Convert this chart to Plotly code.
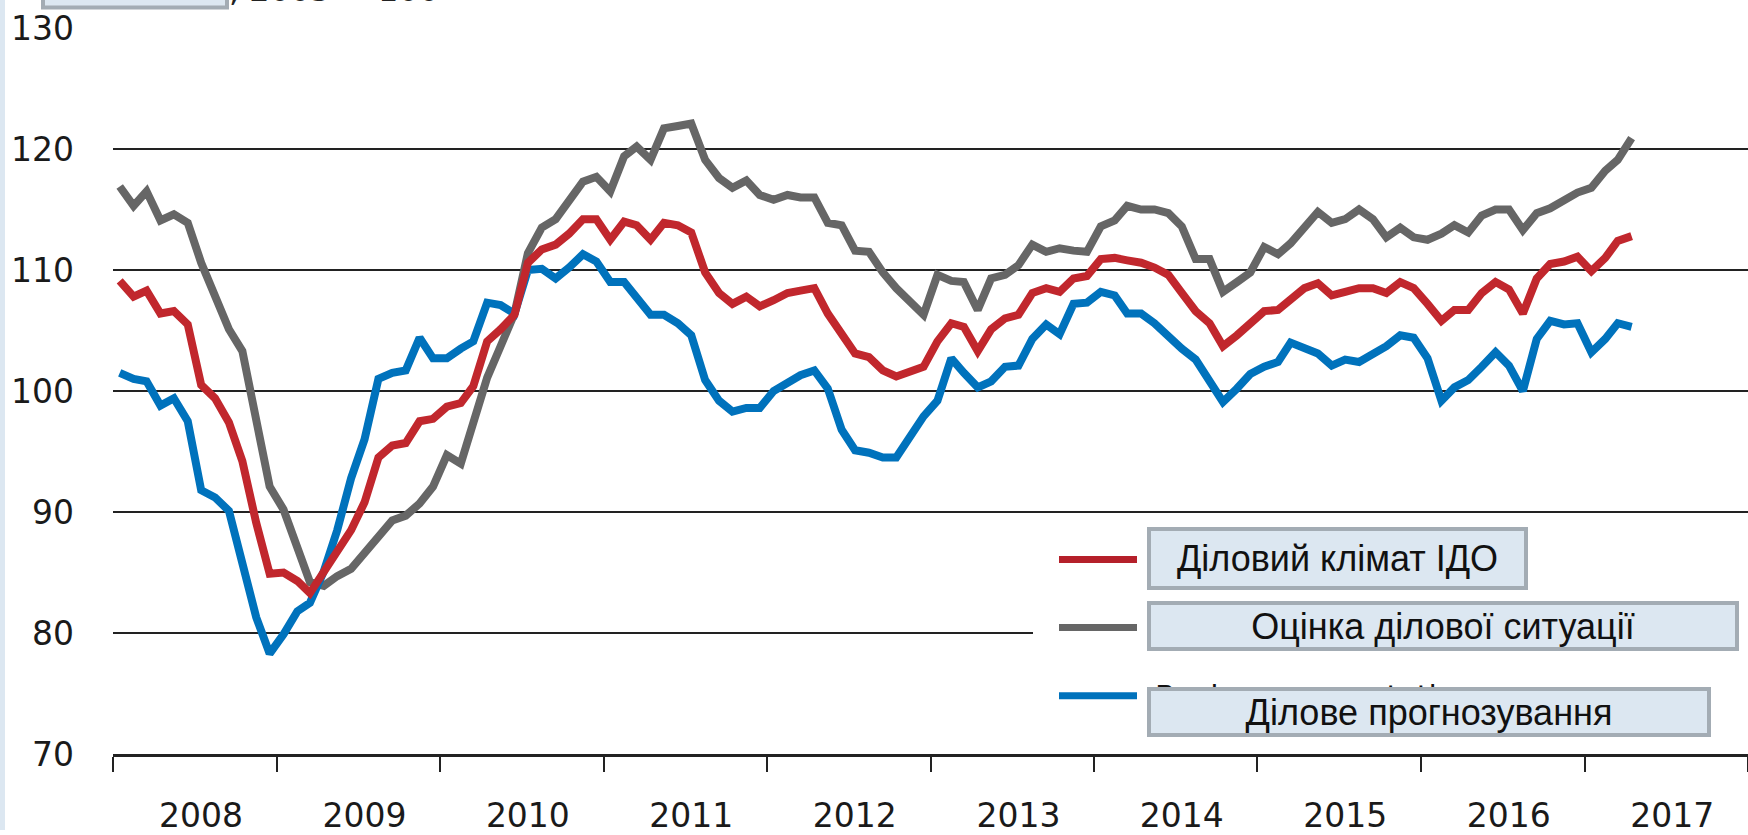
import plotly.graph_objects as go
import pandas as pd

# ---------------- data (monthly, Jan 2008 - Apr 2017) ----------------
start_month = "2008-01-01"
n_months = 112

climate = [
    109.1, 107.8, 108.3, 106.4, 106.6, 105.5, 100.5, 99.4, 97.4, 94.2, 89.1, 84.9,
    85.0, 84.3, 83.3, 85.0, 86.6, 88.5, 90.8, 94.5, 95.5, 95.7, 97.5, 97.7,
    98.7, 99.0, 100.4, 104.1, 105.1, 106.3, 110.6, 111.7, 112.1, 113.0, 114.2, 114.2,
    112.5, 114.0, 113.7, 112.5, 113.9, 113.7, 113.1, 109.8, 108.1, 107.2, 107.8, 107.0,
    107.5, 108.1, 108.3, 108.5, 106.4, 104.6, 103.1, 102.8, 101.7, 101.2, 101.6, 102.0,
    104.1, 105.6, 105.3, 103.3, 105.1, 106.0, 106.3, 108.1, 108.5, 108.2, 109.3, 109.5,
    110.9, 111.0, 110.8, 110.6, 110.2, 109.6, 108.1, 106.6, 105.6, 103.7, 104.6, 105.6,
    106.6, 106.7, 107.6, 108.5, 108.9, 107.9, 108.2, 108.5, 108.5, 108.1, 109.0, 108.5,
    107.2, 105.8, 106.7, 106.7, 108.1, 109.0, 108.4, 106.4, 109.3, 110.5, 110.7, 111.1,
    109.9, 111.0, 112.4, 112.8,
]

situation = [
    116.9, 115.3, 116.5, 114.1, 114.6, 113.9, 110.6, 108.0, 105.1, 103.3, 97.4, 92.1,
    90.2, 87.1, 84.2, 83.9, 84.7, 85.3, 86.6, 88.0, 89.3, 89.7, 90.7, 92.1,
    94.7, 94.0, 97.4, 101.1, 103.7, 106.4, 111.4, 113.5, 114.2, 115.6, 117.3, 117.7,
    116.5, 119.4, 120.2, 119.1, 121.7, 121.9, 122.1, 119.1, 117.6, 116.8, 117.4, 116.2,
    115.8, 116.2, 116.0, 116.0, 113.9, 113.7, 111.6, 111.5, 109.8, 108.5, 107.4, 106.3,
    109.6, 109.1, 109.0, 106.7, 109.3, 109.6, 110.4, 112.1, 111.5, 111.8, 111.6, 111.5,
    113.6, 114.1, 115.3, 115.0, 115.0, 114.7, 113.6, 110.9, 110.9, 108.2, 109.0, 109.8,
    111.9, 111.3, 112.2, 113.6, 114.8, 113.9, 114.2, 115.0, 114.2, 112.7, 113.5, 112.7,
    112.5, 113.0, 113.7, 113.1, 114.5, 115.0, 115.0, 113.3, 114.7, 115.1, 115.7, 116.4,
    116.8, 118.2, 119.1, 120.9,
]

expectations = [
    101.5, 101.0, 100.8, 98.8, 99.4, 97.5, 91.8, 91.2, 90.1, 85.6, 81.3, 78.3,
    79.9, 81.8, 82.5, 85.1, 88.5, 92.8, 96.0, 101.0, 101.5, 101.7, 104.4, 102.7,
    102.7, 103.5, 104.1, 107.3, 107.1, 106.4, 110.0, 110.1, 109.3, 110.2, 111.3, 110.7,
    109.0, 109.0, 107.6, 106.3, 106.3, 105.6, 104.6, 100.9, 99.2, 98.3, 98.6, 98.6,
    100.0, 100.6, 101.3, 101.7, 100.2, 96.8, 95.1, 94.9, 94.5, 94.5, 96.2, 97.9,
    99.2, 102.7, 101.5, 100.3, 100.8, 102.0, 102.1, 104.3, 105.5, 104.7, 107.2, 107.3,
    108.2, 107.9, 106.4, 106.4, 105.6, 104.5, 103.5, 102.6, 100.8, 99.1, 100.2, 101.4,
    102.0, 102.4, 104.0, 103.5, 103.1, 102.1, 102.6, 102.4, 103.1, 103.7, 104.6, 104.4,
    102.7, 99.2, 100.3, 100.9, 102.0, 103.2, 102.1, 100.0, 104.3, 105.8, 105.5, 105.6,
    103.2, 104.3, 105.6, 105.3,
]

names = ["Діловий клімат ІДО", "Оцінка ділової ситуації", "Ділове прогнозування"]
hidden_label = "Business expectations"
title_text = ", 2005 = 100"
y_ticks = [70, 80, 90, 100, 110, 120, 130]

months = pd.date_range(start_month, periods=n_months, freq="MS") + pd.Timedelta(days=15)

# ---------------- styling ----------------
W, H = 1748, 835
L, R, T, B = 113, 0, 28, 72
PW, PH = W - L - R, H - T - B

def px(x):
    return (x - L) / PW

def py(y):
    return (H - B - y) / PH

RED, GREY, BLUE = "#c1272d", "#666666", "#0072bc"
BOXFILL, BOXLINE = "#dce7f1", "#a3acb4"

fig = go.Figure()
for vals, col, nm in [(situation, GREY, names[1]), (expectations, BLUE, names[2]), (climate, RED, names[0])]:
    fig.add_trace(go.Scatter(x=months, y=vals, mode="lines", name=nm,
                             line=dict(color=col, width=8), hoverinfo="skip"))

shapes = [
    dict(type="rect", xref="paper", yref="paper", x0=px(0), x1=px(5), y0=py(840), y1=py(-5),
         fillcolor=BOXFILL, line=dict(width=0), layer="above"),
    dict(type="rect", xref="paper", yref="paper", x0=px(1033), x1=px(1750), y0=py(755), y1=py(528),
         fillcolor="white", line=dict(width=0), layer="above"),
    dict(type="rect", xref="paper", yref="paper", x0=px(43), x1=px(227), y0=py(7.3), y1=py(-12),
         fillcolor=BOXFILL, line=dict(color=BOXLINE, width=4), layer="above"),
]
for yy, col in [(566, "#b5202a"), (635, GREY), (704, BLUE)]:
    shapes.append(dict(type="line", xref="paper", yref="paper", x0=px(1059), x1=px(1137),
                       y0=py(yy), y1=py(yy), line=dict(color=col, width=7), layer="above"))

annotations = [
    dict(text=title_text, xref="paper", yref="paper", x=px(227), y=py(11), xanchor="left",
         yanchor="bottom", showarrow=False, font=dict(family="DejaVu Sans", size=32, color="#222")),
    dict(text=hidden_label, xref="paper", yref="paper", x=px(1153), y=py(705), xanchor="left",
         yanchor="middle", showarrow=False, font=dict(family="DejaVu Sans", size=30, color="#111")),
]
boxes = [(names[0], 1147, 533, 381, 63), (names[1], 1147, 608, 592, 50), (names[2], 1147, 695, 564, 50)]
for txt, bx, by, bw, bh in boxes:
    annotations.append(dict(text=txt, xref="paper", yref="paper", x=px(bx), y=py(by),
                            xanchor="left", yanchor="top", showarrow=False,
                            width=bw - 8, height=bh - 8, align="center", valign="middle",
                            bgcolor=BOXFILL, bordercolor=BOXLINE, borderwidth=4, borderpad=0,
                            font=dict(family="Liberation Sans, Arial", size=36, color="#111")))

fig.update_layout(
    width=W, height=H, autosize=False,
    margin=dict(l=L, r=R, t=T, b=B, pad=0),
    paper_bgcolor="white", plot_bgcolor="white",
    showlegend=False,
    shapes=shapes, annotations=annotations,
    xaxis=dict(type="date", range=["2008-01-01", "2018-01-01"], tick0="2008-01-01", dtick="M12",
               tickformat="%Y", ticklabelmode="period", ticks="outside", ticklen=15, tickwidth=1.5,
               tickcolor="#222", showgrid=False, showline=True, linecolor="#222", linewidth=2.5,
               zeroline=False, ticklabelstandoff=16, ticklabelshift=6,
               tickfont=dict(family="DejaVu Sans", size=33, color="#1a1a1a")),
    yaxis=dict(range=[70, 130], tickvals=y_ticks, showgrid=True, gridcolor="#222", gridwidth=1.8,
               zeroline=False, showline=False, ticks="", ticklabelstandoff=38,
               tickfont=dict(family="DejaVu Sans", size=33, color="#1a1a1a")),
)

fig.write_html("out.html", config={"displayModeBar": False},
               post_script="document.body.style.margin='0';document.body.style.overflow='hidden';")
